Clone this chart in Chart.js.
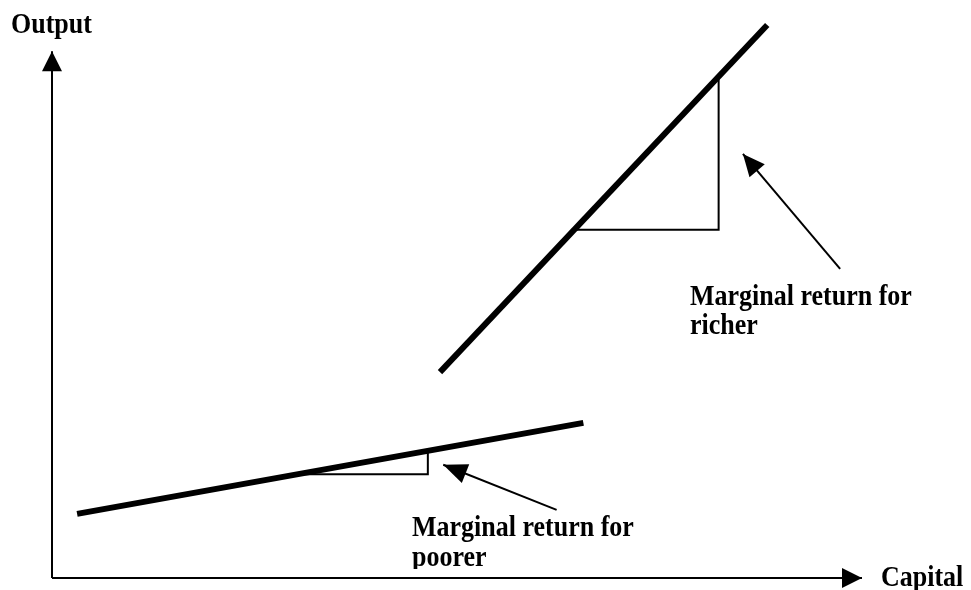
<!DOCTYPE html>
<html>
<head>
<meta charset="utf-8">
<script src="https://cdn.jsdelivr.net/npm/chart.js@4/dist/chart.umd.min.js"></script>
<style>
  html, body { margin: 0; padding: 0; background: #fff; }
  #wrap { width: 971px; height: 590px; }
</style>
</head>
<body>
<div id="wrap"><canvas id="chart" width="971" height="590"></canvas></div>
<script>
// Curve end points (capital, output) on a 0-100 concept scale
const richerCapital = [47.9, 88.3];
const richerOutput = [36.9, 99.1];
const poorerCapital = [3.1, 65.6];
const poorerOutput = [11.5, 27.8];

// Slope triangles (vertical leg then horizontal leg)
const richerTriCapital = [82.3, 82.3, 64.8];
const richerTriOutput = [89.9, 62.4, 62.4];
const poorerTriCapital = [46.4, 46.4, 30.7];
const poorerTriOutput = [22.8, 18.6, 18.6];

// Pointer arrows: tail then tip
const richerArrowCapital = [97.3, 85.3];
const richerArrowOutput = [55.4, 76.0];
const poorerArrowCapital = [62.3, 48.3];
const poorerArrowOutput = [12.2, 20.3];

// Axes: origin then tip
const yAxisCapital = [0, 0];
const yAxisOutput = [0, 94.4];
const xAxisCapital = [0, 100];
const xAxisOutput = [0, 0];

const richerLabel = ['Marginal return for', 'richer'];
const poorerLabel = ['Marginal return for', 'poorer'];
const yTitle = 'Output';
const xTitle = 'Capital';

function pts(xs, ys) {
  return xs.map((x, i) => ({ x: x, y: ys[i] }));
}

function seg(xs, ys, width, arrow) {
  return {
    data: pts(xs, ys),
    showLine: true,
    borderColor: '#000',
    backgroundColor: '#000',
    borderWidth: width,
    pointRadius: 0,
    tension: 0,
    clip: false,
    arrow: arrow || null
  };
}

// text in the picture is a little taller than the plain font
function tallText(ctx, text, x, y) {
  ctx.save();
  ctx.translate(x, y);
  ctx.scale(1, 1.16);
  ctx.fillText(text, 0, 0);
  ctx.restore();
}

const arrowPlugin = {
  id: 'arrows',
  afterDatasetsDraw(chart) {
    const ctx = chart.ctx;
    const sx = chart.scales.x;
    const sy = chart.scales.y;
    ctx.save();
    ctx.fillStyle = '#000';
    chart.data.datasets.forEach(ds => {
      if (!ds.arrow) return;
      const n = ds.data.length;
      const tx = sx.getPixelForValue(ds.data[n - 1].x);
      const ty = sy.getPixelForValue(ds.data[n - 1].y);
      const fx = sx.getPixelForValue(ds.data[n - 2].x);
      const fy = sy.getPixelForValue(ds.data[n - 2].y);
      const len = Math.hypot(tx - fx, ty - fy);
      const ux = (tx - fx) / len, uy = (ty - fy) / len;
      const L = ds.arrow.length, W = ds.arrow.half;
      const bx = tx - ux * L, by = ty - uy * L;
      ctx.beginPath();
      ctx.moveTo(tx, ty);
      ctx.lineTo(bx - uy * W, by + ux * W);
      ctx.lineTo(bx + uy * W, by - ux * W);
      ctx.closePath();
      ctx.fill();
    });

    ctx.font = 'bold 26px "Liberation Serif", "Times New Roman", serif';
    ctx.textBaseline = 'alphabetic';
    ctx.textAlign = 'left';
    tallText(ctx, yTitle, 11, 33);
    tallText(ctx, xTitle, 881, 586);
    tallText(ctx, richerLabel[0], 690, 305);
    tallText(ctx, richerLabel[1], 690, 334);
    ctx.save();
    ctx.beginPath();
    ctx.rect(380, 500, 260, 69);
    ctx.clip();
    tallText(ctx, poorerLabel[0], 412, 536);
    tallText(ctx, poorerLabel[1], 412, 566);
    ctx.restore();
    ctx.restore();
  }
};

new Chart(document.getElementById('chart').getContext('2d'), {
  type: 'scatter',
  data: {
    datasets: [
      seg(richerCapital, richerOutput, 6),
      seg(poorerCapital, poorerOutput, 6),
      seg(richerTriCapital, richerTriOutput, 2),
      seg(poorerTriCapital, poorerTriOutput, 2),
      seg(richerArrowCapital, richerArrowOutput, 2, { length: 22, half: 10 }),
      seg(poorerArrowCapital, poorerArrowOutput, 2, { length: 24, half: 10 }),
      seg(yAxisCapital, yAxisOutput, 2, { length: 20, half: 10 }),
      seg(xAxisCapital, xAxisOutput, 2, { length: 20, half: 10 })
    ]
  },
  options: {
    responsive: false,
    animation: false,
    layout: { padding: { left: 52, right: 109, top: 20, bottom: 12 } },
    plugins: {
      legend: { display: false },
      tooltip: { enabled: false }
    },
    scales: {
      x: { type: 'linear', min: 0, max: 100, display: false },
      y: { type: 'linear', min: 0, max: 100, display: false }
    }
  },
  plugins: [arrowPlugin]
});
</script>
</body>
</html>
